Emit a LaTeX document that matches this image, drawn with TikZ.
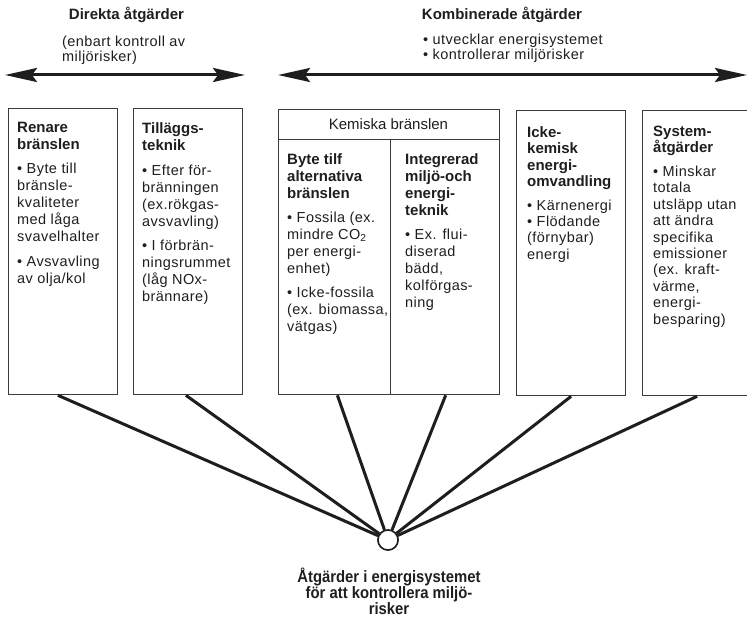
\documentclass[tikz,border=0pt]{standalone}
\usepackage{fontspec}
\setmainfont{Liberation Sans}
\newfontfamily\bodyf[LetterSpace=3]{Liberation Sans}
\newfontfamily\condf[FakeStretch=0.9]{Liberation Sans}
\usetikzlibrary{arrows.meta}
\definecolor{ink}{HTML}{1E1E1E}
\definecolor{frame}{HTML}{3A3A3A}
\newcommand\hdg[1]{{\normalfont\bfseries\fontsize{15}{17}\selectfont #1}}
\begin{document}
\begin{tikzpicture}[x=1pt,y=-1pt,
  boxst/.style={draw=frame, line width=1.3pt, inner sep=0pt, anchor=north west},
  txt/.style={anchor=north west, inner sep=0pt, align=left, text=ink,
              font=\bodyf\fontsize{14.5}{17}\selectfont},
  txttight/.style={txt, font=\bodyf\fontsize{14.5}{16.4}\selectfont},
  toptxt/.style={txt, font=\bodyf\fontsize{14.5}{15.2}\selectfont},
  ttlst/.style={inner sep=0pt, text=ink, font=\normalfont\bfseries\fontsize{15}{17}\selectfont},
  conn/.style={draw=ink, line width=3pt},
  hub/.style={circle, draw=ink, line width=1.5pt, fill=white, minimum size=20pt, inner sep=0pt},
  dblarrow/.style={draw=ink, line width=3pt,
    arrows={Stealth[length=32pt,width=14pt,inset=5pt]-Stealth[length=32pt,width=14pt,inset=5pt]}}
]
\clip (0,0) rectangle (747,618);

% top headings and arrows
\node[ttlst] (dt) at (126.5,15) {Direkta åtgärder};
\node[toptxt] (dsub) at (62,35.5) {(enbart kontroll av\\ miljörisker)};
\node[ttlst] (kt) at (502,15) {Kombinerade åtgärder};
\node[toptxt] (ksub) at (423,33.5) {• utvecklar energisystemet\\ • kontrollerar miljörisker};

\coordinate (la) at (5,75);
\coordinate (lb) at (245,75);
\coordinate (ra) at (278,75);
\coordinate (rb) at (747,75);
\draw[dblarrow] (la) -- (lb);
\draw[dblarrow] (ra) -- (rb);

% boxes
\node[boxst, minimum width=109.5pt, minimum height=286pt] (b1) at (7.5,108) {};
\node[boxst, minimum width=108.5pt, minimum height=286pt] (b2) at (133,108) {};
\node[boxst, minimum width=220.5pt, minimum height=285pt] (kem) at (278,109) {};
\node[boxst, minimum width=111.5pt, minimum height=255pt] (kl) at (278,139) {};
\node[boxst, minimum width=109pt, minimum height=255pt] (kr) at (389.5,139) {};
\node[boxst, minimum width=109pt, minimum height=285pt] (ick) at (516,110) {};
\node[boxst, minimum width=113pt, minimum height=285pt] (sys) at (642,110) {};

% box texts
\node[txt] (t1) at (17,121.5) {\hdg{Renare}\\ \hdg{bränslen}\\[7.5pt]
  • Byte till\\ bränsle-\\ kvaliteter\\ med låga\\ svavelhalter\\[7.5pt]
  • Avsvavling\\ av olja/kol};
\node[txt] (t2) at (142,122.5) {\hdg{Tilläggs-}\\ \hdg{teknik}\\[7.5pt]
  • Efter för-\\ bränningen\\ (ex.rökgas-\\ avsvavling)\\[7.5pt]
  • I förbrän-\\ ningsrummet\\ (låg NOx-\\ brännare)};
\node[inner sep=0pt, text=ink, font=\normalfont\fontsize{15}{17}\selectfont] (kh) at (388.5,124.5) {Kemiska bränslen};
\node[txt] (tkl) at (287,153.5) {\hdg{Byte tilf}\\ \hdg{alternativa}\\ \hdg{bränslen}\\[7pt]
  • Fossila (ex.\\ mindre CO\textsubscript{2}\\ per energi-\\ enhet)\\[7pt]
  • Icke-fossila\\ (ex. biomassa,\\ vätgas)};
\node[txt] (tkr) at (405,153.5) {\hdg{Integrerad}\\ \hdg{miljö-och}\\ \hdg{energi-}\\ \hdg{teknik}\\[7pt]
  • Ex. flui-\\ diserad\\ bädd,\\ kolförgas-\\ ning};
\node[txttight] (tic) at (527,126.5) {\hdg{Icke-}\\ \hdg{kemisk}\\ \hdg{energi-}\\ \hdg{omvandling}\\[7pt]
  • Kärnenergi\\ • Flödande\\ (förnybar)\\ energi};
\node[txttight] (tsy) at (653,125.5) {\hdg{System-}\\ \hdg{åtgärder}\\[7.5pt]
  • Minskar\\ totala\\ utsläpp utan\\ att ändra\\ specifika\\ emissioner\\ (ex. kraft-\\ värme,\\ energi-\\ besparing)};

% hub
\node[hub] (c) at (388,540) {};
\draw[conn] ([xshift=-5pt]b1.south) -- (c);
\draw[conn] ([xshift=-2pt]b2.south) -- (c);
\draw[conn] ([xshift=3pt]kl.south) -- (c);
\draw[conn] ([xshift=1pt]kr.south) -- (c);
\draw[conn] (ick.south) -- (c);
\draw[conn] ([xshift=-2pt]sys.south) -- (c);
\node[hub] at (c) {};

\node[anchor=north, inner sep=0pt, align=center, text=ink,
  font=\condf\bfseries\fontsize{16.5}{16.3}\selectfont] (bt) at (389,567.5)
  {Åtgärder i energisystemet\\ för att kontrollera miljö-\\ risker};
\end{tikzpicture}
\end{document}
